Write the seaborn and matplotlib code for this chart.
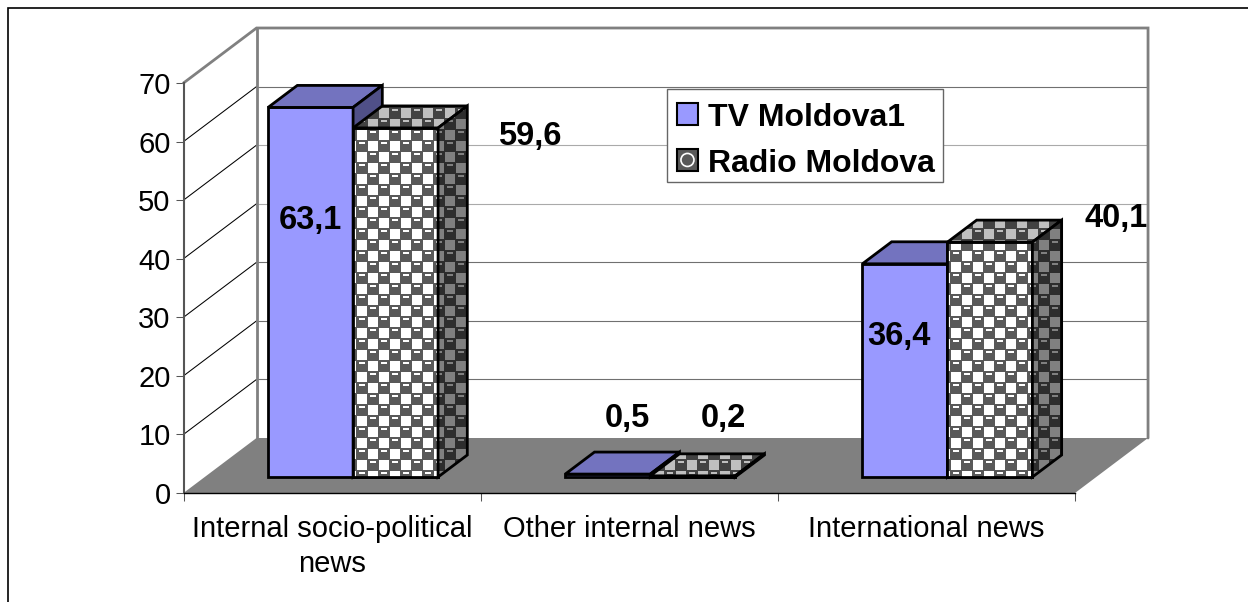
import numpy as np
import pandas as pd
import matplotlib
matplotlib.use("Agg")
import matplotlib.pyplot as plt
import seaborn as sns
from matplotlib.lines import Line2D
from matplotlib.patches import Polygon, Circle
from matplotlib.transforms import IdentityTransform

categories = ["Internal socio-political\nnews", "Other internal news", "International news"]
channels = ["TV Moldova1", "Radio Moldova"]
tv_values = [63.1, 0.5, 36.4]
radio_values = [59.6, 0.2, 40.1]
y_ticks = [0, 10, 20, 30, 40, 50, 60, 70]

W, H = 1248, 602
FONT = 21
BOLD = 23.5

sns.set_theme(style="white")
plt.rcParams["font.family"] = ["Liberation Sans", "DejaVu Sans"]
plt.rcParams["text.color"] = "black"

df = pd.DataFrame({
    "category": categories * 2,
    "channel": [channels[0]] * 3 + [channels[1]] * 3,
    "value": tv_values + radio_values,
})

fig = plt.figure(figsize=(W / 100, H / 100), dpi=100, facecolor="white")
ax = fig.add_axes([183.5 / W, (H - 493) / H, (1075 - 183.5) / W, 410 / H])
ax.patch.set_alpha(0)

sns.barplot(data=df, x="category", y="value", hue="channel", palette=["#9999FF", "#595959"],
            saturation=1, width=0.572, edgecolor="black", linewidth=2, ax=ax)

x0, x1 = -0.5, 2.5
y0, y1 = 0, 70
# chart depth, in data units
ddx = 73 / 297
ddy = 55 / (410 / 70)
ax.set_xlim(x0, x1)
ax.set_ylim(y0, y1)


def poly(points, **kw):
    p = Polygon(points, closed=True, clip_on=False, **kw)
    ax.add_patch(p)
    return p


# walls and floor
poly([(x0, y0), (x0 + ddx, y0 + ddy), (x1 + ddx, y0 + ddy), (x1, y0)],
     facecolor="#808080", edgecolor="none", zorder=0.5)
for t in y_ticks[1:-1]:
    ax.plot([x0, x0 + ddx], [t, t + ddy], color="black", lw=0.75, clip_on=False, zorder=0.6)
    grid_color = "#AAAAAA" if t in (40, 50) else "#707070"
    ax.plot([x0 + ddx, x1 + ddx], [t + ddy, t + ddy], color=grid_color, lw=0.8, clip_on=False, zorder=0.6)
ax.plot([x0, x0 + ddx, x1 + ddx, x1 + ddx], [y1, y1 + ddy, y1 + ddy, y0 + ddy],
        color="#808080", lw=2, clip_on=False, zorder=0.7, solid_joinstyle="miter")
ax.plot([x0 + ddx, x0 + ddx], [y0 + ddy, y1 + ddy], color="#808080", lw=2, clip_on=False, zorder=0.7)


# the bitmap brush of the radio bars, aligned to screen pixels
yy, xx = np.mgrid[0:H, 0:W]
u = (xx - 379) % 22
v = (yy - 141) % 22
cu = u % 11
cv = v % 11
dark_cell = ((u < 11) & (v < 11)) | ((u >= 11) & (v >= 11))
# light squares are a little smaller than the dark blobs
inset = (cu <= 9) & (cv <= 9)
dash = dark_cell & (cu >= 2) & (cu <= 7) & (cv >= 1) & (cv <= 2)
dark = ~((~dark_cell & inset) | dash)


def brush_fill(points, fg, bg, z):
    img = np.zeros((H, W, 3))
    img[:] = matplotlib.colors.to_rgb(bg)
    img[dark] = matplotlib.colors.to_rgb(fg)
    outline = poly(points, fill=False, edgecolor="black", lw=2, zorder=z + 0.1, joinstyle="miter")
    im = ax.imshow(img, extent=(0, W, 0, H), transform=IdentityTransform(), aspect="auto",
                   interpolation="nearest", zorder=z)
    im.set_clip_box(fig.bbox)
    im.set_clip_path(outline)


# lift the fronts off the floor edge and build the box faces from the bars
base = 16 / (410 / 70)
shift = 21 / 297
box_depth = 0.4
z = 3
for container in ax.containers:
    for bar in container:
        bar.set_x(bar.get_x() + shift)
        bar.set_y(base)
for i in range(3):
    for c_idx, container in enumerate(ax.containers):
        bar = container[i]
        l, r = bar.get_x(), bar.get_x() + bar.get_width()
        b, t = bar.get_y(), bar.get_y() + bar.get_height()
        bx, by = box_depth * ddx, box_depth * ddy
        front = [(l, b), (r, b), (r, t), (l, t)]
        top = [(l, t), (r, t), (r + bx, t + by), (l + bx, t + by)]
        side = [(r, b), (r, t), (r + bx, t + by), (r + bx, b + by)]
        bar.set_zorder(z)
        bar.set_joinstyle("miter")
        if c_idx == 0:
            poly(top, facecolor="#7373BF", edgecolor="black", lw=2, zorder=z, joinstyle="miter")
            poly(side, facecolor="#505088", edgecolor="black", lw=2, zorder=z, joinstyle="miter")
        else:
            brush_fill(front, "#595959", "white", z)
            brush_fill(top, "#424242", "#BFBFBF", z + 0.2)
            brush_fill(side, "#2D2D2D", "#808080", z + 0.4)
        z += 1

ax.set_xlim(x0, x1)
ax.set_ylim(y0, y1)
ax.set_xlabel("")
ax.set_ylabel("")

# ticks sit on the category boundaries, labels in between
ax.set_xticks([-0.5, 0.5, 1.5, 2.5], labels=["", "", "", ""])
ax.set_xticks([0, 1, 2], labels=categories, minor=True)
ax.set_yticks(y_ticks)
ax.tick_params(axis="x", which="major", length=5.5, width=0.75, color="#555555", bottom=True)
ax.tick_params(axis="x", which="minor", length=0, pad=16, labelsize=FONT, labelcolor="black")
ax.tick_params(axis="y", length=5.8, width=0.75, color="#555555", left=True, pad=3.5,
               labelsize=FONT, labelcolor="black")
for lab in ax.get_xticklabels(minor=True):
    lab.set_linespacing(1.32)

sns.despine(ax=ax)
ax.spines["left"].set(color="#555555", lw=1.5, zorder=2.5)
ax.spines["bottom"].set(color="black", lw=1, zorder=2.5)

# data labels
label_pos = [(310, 221), (627, 419), (899, 336), (530, 137), (723, 419), (1116, 218)]
for val, (px, py) in zip(tv_values + radio_values, label_pos):
    ax.annotate(f"{val:.1f}".replace(".", ","), xy=(px, H - py), xycoords="figure pixels",
                ha="center", va="center", fontsize=BOLD, fontweight="bold", color="black",
                annotation_clip=False, zorder=30)

sns.move_legend(ax, loc="upper left", bbox_to_anchor=(667 / W, (H - 89) / H),
                bbox_transform=fig.transFigure, title=None, frameon=True, fancybox=False,
                framealpha=1, edgecolor="#666666", prop={"weight": "bold", "size": 23},
                labelcolor="black", handlelength=0.63, handleheight=0.68, handletextpad=0.39,
                borderpad=0.26, labelspacing=0.5, borderaxespad=0)
leg = ax.get_legend()
leg.set_zorder(40)
leg.get_frame().set_linewidth(1)
for h in leg.get_patches():
    h.set_edgecolor("black")
    h.set_linewidth(1.5)
    h.set_x(h.get_x() + 1.5)
    h.set_y(h.get_y() - 3.5)
# entries sit a bit low in the box, as in the original
for txt in leg.get_texts():
    txt.set_position((0, -6))

fig.canvas.draw()
swatch = leg.get_patches()[1].get_window_extent()
ax.add_artist(Circle((swatch.x0 + swatch.width / 2, swatch.y0 + swatch.height / 2), 6.5,
                     transform=IdentityTransform(), fill=False, edgecolor="white", lw=1.2,
                     clip_on=False, zorder=41))

# outer chart frame: only top and left are inside the picture
fig.add_artist(Line2D([8 / W, 8 / W, 1], [0, (H - 8) / H, (H - 8) / H], color="black", lw=1.2,
                      solid_joinstyle="miter"))

fig.savefig("out.png", dpi=100)
